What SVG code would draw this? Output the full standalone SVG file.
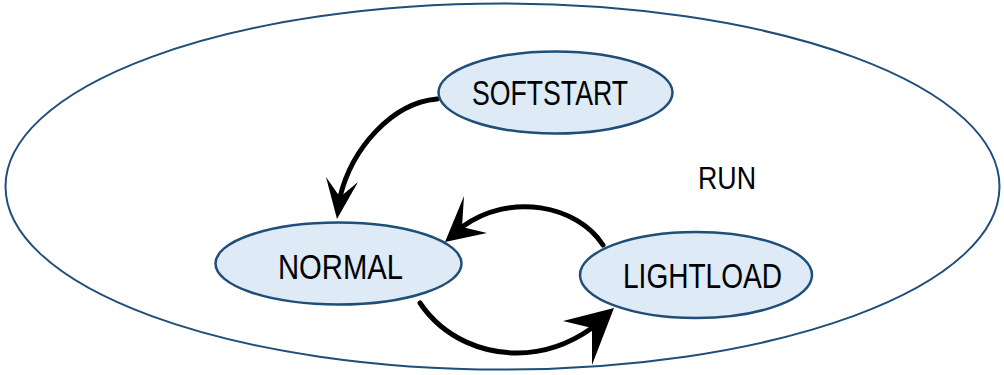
<svg xmlns="http://www.w3.org/2000/svg" width="1004" height="375" viewBox="0 0 1004 375">
  <style>
    .state { fill: #DEEAF6; stroke: #1F4E79; stroke-width: 2.5; }
    .outer { fill: #FFFFFF; stroke: #1F4E79; stroke-width: 2; }
    .lbl { font-family: "Liberation Sans", Arial, sans-serif; font-size: 35px; fill: #000; text-anchor: middle; }
    .edge { fill: none; stroke: #000; stroke-width: 5; stroke-linecap: round; }
    .head { fill: #000; stroke: none; }
  </style>
  <rect width="1004" height="375" fill="#FFFFFF"/>
  <g id="run">
    <ellipse class="outer" cx="502.5" cy="186.5" rx="497" ry="183"/>
    <text class="lbl" x="727" y="189" style="font-size:32px" textLength="58" lengthAdjust="spacingAndGlyphs">RUN</text>
  </g>
  <g id="connectors">
    <path class="edge" d="M437,99 C 392,103 352,148 340,197"/>
    <polygon class="head" points="337,219 326,177 340,197 358,182"/>
    <path class="edge" d="M603,245 C 577,205 510,192 462,227"/>
    <polygon class="head" points="445,242 464,196 462,227 487,233"/>
    <path class="edge" d="M420,303 C 445,340 485,353 517,353 C 550,353 575,340 592,328"/>
    <polygon class="head" points="614,308 563,321 592,328 592,365"/>
  </g>
  <g id="softstart">
    <ellipse class="state" cx="555.5" cy="92.5" rx="117" ry="41"/>
    <text class="lbl" x="550" y="105" textLength="156" lengthAdjust="spacingAndGlyphs">SOFTSTART</text>
  </g>
  <g id="normal">
    <ellipse class="state" cx="338.5" cy="263.5" rx="123" ry="41"/>
    <text class="lbl" x="340.5" y="279" textLength="125" lengthAdjust="spacingAndGlyphs">NORMAL</text>
  </g>
  <g id="lightload">
    <ellipse class="state" cx="696" cy="275" rx="116" ry="43"/>
    <text class="lbl" x="702.5" y="288" textLength="159" lengthAdjust="spacingAndGlyphs">LIGHTLOAD</text>
  </g>
</svg>
